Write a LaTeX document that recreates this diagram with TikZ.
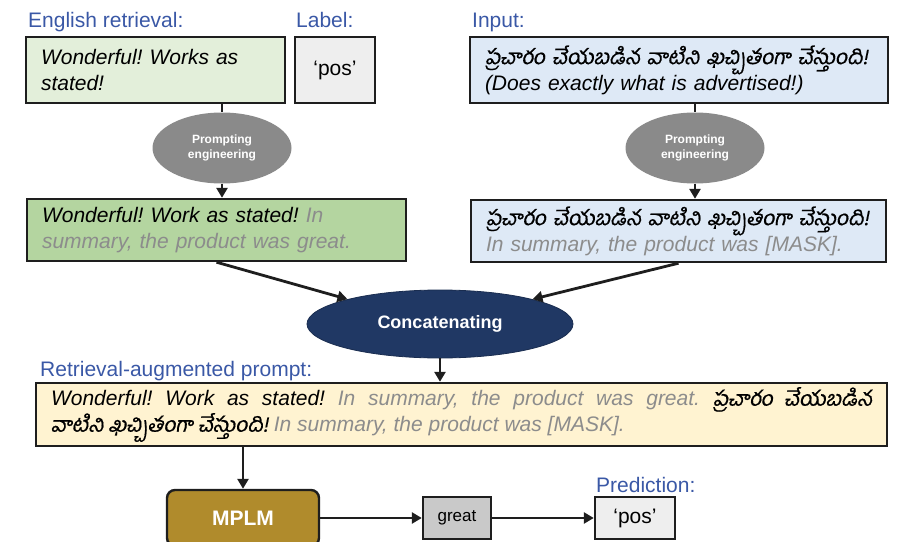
\documentclass[tikz,border=0pt]{standalone}
\usepackage{fontspec}
\setmainfont{Liberation Sans}
\newfontfamily\telugu[Script=Telugu,FakeSlant=0.2,FakeBold=0.6]{Hind Guntur}
\usetikzlibrary{arrows.meta,shapes.geometric}
\frenchspacing

\definecolor{hdrblue}{HTML}{3A58A6}
\definecolor{greenA}{HTML}{E3EFDA}
\definecolor{greenB}{HTML}{B4D5A0}
\definecolor{blueA}{HTML}{DEE9F6}
\definecolor{labelgray}{HTML}{EEEEEE}
\definecolor{greatgray}{HTML}{C9C9C9}
\definecolor{promptyellow}{HTML}{FFF3D1}
\definecolor{ellgray}{HTML}{8A8A8A}
\definecolor{navy}{HTML}{203864}
\definecolor{gold}{HTML}{B08B2C}
\definecolor{txtgray}{HTML}{8C8C8C}
\definecolor{edge}{HTML}{1E1E1E}

\newcommand{\gr}[1]{\textcolor{txtgray}{#1}}
\newcommand{\tel}[1]{{\telugu #1}}

\begin{document}
\begin{tikzpicture}[x=1pt,y=-1pt,
  hdr/.style={text=hdrblue, font=\fontsize{21}{24}\selectfont, anchor=base west, inner sep=0pt},
  tbox/.style={draw=edge, line width=2.4pt, inner xsep=15pt, inner ysep=0pt, align=left,
               font=\fontsize{21}{26}\selectfont\itshape},
  pe/.style={ellipse, fill=ellgray, minimum width=139pt, minimum height=71pt, inner sep=0pt,
             align=center, text=white, font=\fontsize{12}{15}\selectfont\bfseries},
  conn/.style={line width=2.8pt, draw=edge},
  arr/.style={conn, -{Triangle[length=10pt,width=11pt]}}
]
\useasboundingbox (0,0) rectangle (897,541);
\clip (0,0) rectangle (897,541);

% section headings
\node[hdr] (hEng)  at (28,27)  {English retrieval:};
\node[hdr] (hLab)  at (296,27) {Label:};
\node[hdr] (hIn)   at (472,27) {Input:};
\node[hdr] (hAug)  at (40,376) {Retrieval-augmented prompt:};
\node[hdr] (hPred) at (596,492) {Prediction:};

% top row: retrieved example, its label, and the input
\node[tbox, fill=greenA, minimum width=259pt, minimum height=66pt, text width=229pt]
  (ret) at (155.5,70) {Wonderful! Works as\\stated!};
\node[tbox, fill=labelgray, minimum width=80pt, minimum height=66pt, inner xsep=0pt,
      align=center, font=\fontsize{21}{26}\selectfont]
  (lab) at (335,70) {‘pos’};
\node[tbox, fill=blueA, minimum width=418pt, minimum height=66pt, text width=388pt]
  (inp) at (679,70) {\tel{ప్రచారం చేయబడిన వాటిని ఖచ్చితంగా చేస్తుంది!}\\(Does exactly what is advertised!)};

% prompt engineering steps
\node[pe] (pe1) at (222,148) {Prompting\\engineering};
\node[pe] (pe2) at (695,148) {Prompting\\engineering};

% templated sentences
\node[tbox, fill=greenB, minimum width=379pt, minimum height=62pt, text width=349pt]
  (retp) at (216.5,230) {Wonderful! Work as stated! \gr{In}\\\gr{summary, the product was great.}};
\node[tbox, fill=blueA, minimum width=415pt, minimum height=62pt, text width=385pt]
  (inpp) at (678.5,231) {\tel{ప్రచారం చేయబడిన వాటిని ఖచ్చితంగా చేస్తుంది!}\\\gr{In summary, the product was [MASK].}};

% concatenation
\node[ellipse, fill=navy, draw=navy!80!black, line width=0.8pt, minimum width=266pt, minimum height=68pt,
      text=white, font=\fontsize{18}{20}\selectfont\bfseries]
  (cat) at (440,324) {Concatenating};

% retrieval-augmented prompt (justified, first line filled out)
\node[tbox, fill=promptyellow, minimum width=851pt, minimum height=63pt, text width=821pt,
      align=justify, font=\fontsize{21}{26}\selectfont\itshape]
  (prm) at (461.5,414.5)
  {Wonderful! Work as stated! \gr{In summary, the product was great.} \tel{ప్రచారం చేయబడిన}\linebreak
   \tel{వాటిని ఖచ్చితంగా చేస్తుంది!} \gr{In summary, the product was [MASK].}};

% model and outputs
\node[draw=edge, line width=2.4pt, fill=gold, rounded corners=8pt, minimum width=152pt, minimum height=56pt,
      text=white, font=\fontsize{21}{24}\selectfont\bfseries]
  (mplm) at (243,518) {MPLM};
\node[draw=edge, line width=2.4pt, fill=greatgray, minimum width=68pt, minimum height=42pt,
      font=\fontsize{17}{20}\selectfont]
  (grt) at (457,518) {great};
\node[draw=edge, line width=2.4pt, fill=labelgray, minimum width=80pt, minimum height=42pt,
      font=\fontsize{21}{24}\selectfont]
  (pred) at (635,518) {‘pos’};

% connectors
\draw[conn] (pe1.north |- ret.south) -- (pe1.north);
\draw[arr]  (pe1.south) -- (pe1.south |- retp.north);
\draw[conn] (pe2.north |- inp.south) -- (pe2.north);
\draw[arr]  (pe2.south) -- (pe2.south |- inpp.north);
\draw[arr]  (retp.south) -- (cat.165);
\draw[arr]  (inpp.south) -- (cat.15);
\draw[arr]  (cat.south) -- (cat.south |- prm.north);
\draw[arr]  (prm.south -| mplm.north) -- (mplm.north);
\draw[arr]  (mplm.east) -- (grt.west);
\draw[arr]  (grt.east) -- (pred.west);
\end{tikzpicture}
\end{document}
